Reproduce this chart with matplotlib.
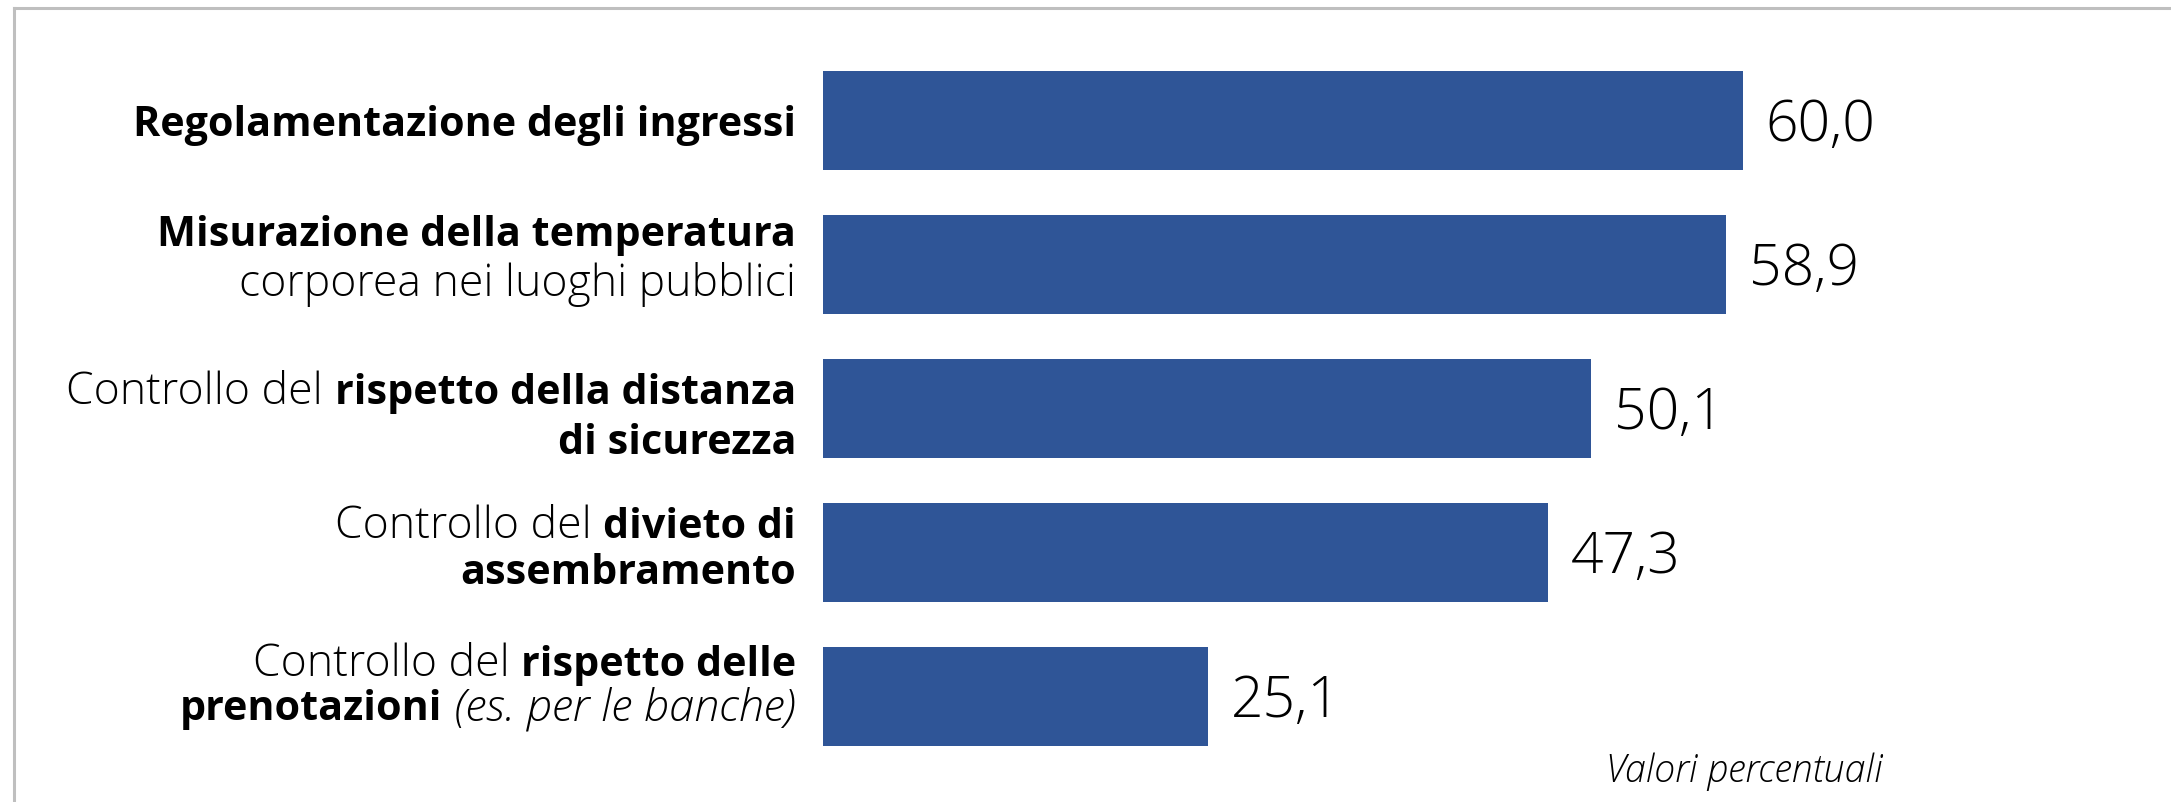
import matplotlib
matplotlib.use("Agg")
import matplotlib.pyplot as plt
from matplotlib.font_manager import FontProperties
from matplotlib.transforms import IdentityTransform
from matplotlib.lines import Line2D

# ---------------- data ----------------
categories = [
    "Regolamentazione degli ingressi",
    "Misurazione della temperatura corporea nei luoghi pubblici",
    "Controllo del rispetto della distanza di sicurezza",
    "Controllo del divieto di assembramento",
    "Controllo del rispetto delle prenotazioni (es. per le banche)",
]
values = [60.0, 58.9, 50.1, 47.3, 25.1]
value_labels = ["60,0", "58,9", "50,1", "47,3", "25,1"]

# rich-text rendering of the category labels: lines of (text, style) segments
# style: "b" bold, "r" regular, "i" italic
label_lines = [
    [[("Regolamentazione degli ingressi", "b")]],
    [[("Misurazione della temperatura", "b")],
     [("corporea nei luoghi pubblici", "r")]],
    [[("Controllo del", "r"), ("rispetto della distanza", "b")],
     [("di sicurezza", "b")]],
    [[("Controllo del", "r"), ("divieto di", "b")],
     [("assembramento", "b")]],
    [[("Controllo del", "r"), ("rispetto delle", "b")],
     [("prenotazioni", "b"), ("(es. per le banche)", "i")]],
]
unit_note = "Valori percentuali"

# ---------------- layout ----------------
W, H, DPI = 2171, 802, 100
BAR_COLOR = "#2F5597"
BORDER = "#BFBFBF"
FONT = "Open Sans"

fig = plt.figure(figsize=(W / DPI, H / DPI), dpi=DPI)
fig.patch.set_facecolor("white")

ax_left, ax_right = 823, 2049
ax_top, ax_bottom = 48.5, 768.5
ax = fig.add_axes([ax_left / W, (H - ax_bottom) / H,
                   (ax_right - ax_left) / W, (ax_bottom - ax_top) / H])
ypos = list(range(len(values)))
ax.barh(ypos, values, height=0.694, color=BAR_COLOR, edgecolor="none")
ax.set_xlim(0, 80)
ax.set_ylim(len(values) - 0.5, -0.5)
ax.axis("off")

props = {
    "b": FontProperties(family=FONT, weight="bold", size=29.7),
    "r": FontProperties(family=FONT, weight="light", size=32),
    "i": FontProperties(family=FONT, weight="light", style="italic", size=32.5),
}
val_fp = FontProperties(family=FONT, weight="light", size=41)
note_fp = FontProperties(family=FONT, weight="light", style="italic", size=27)

# value labels
for y, v, lbl in zip(ypos, values, value_labels):
    ax.annotate(lbl, xy=(v, y), xytext=(23, -21), textcoords="offset pixels",
                ha="left", va="baseline", fontproperties=val_fp, color="black")

renderer = fig.canvas.get_renderer()


def space_width(fp):
    w1, _, _ = renderer.get_text_width_height_descent("n n", fp, ismath=False)
    w2, _, _ = renderer.get_text_width_height_descent("nn", fp, ismath=False)
    return w1 - w2


def draw_rich_line(x_right, y_base, segs):
    x = x_right
    for text, style in reversed(segs):
        fp = props[style]
        t = fig.text(x, y_base, text, transform=IdentityTransform(),
                     ha="right", va="baseline", fontproperties=fp, color="black")
        bb = t.get_window_extent(renderer)
        x = bb.x0 - space_width(props["r"])


label_right = 796
first_shift = [16, -18, -4, -15, -21]   # baseline of first line vs bar centre (px, down)
line_gap = [0, 50, 50, 47, 45]
for i, lines in enumerate(label_lines):
    yc = ax.transData.transform((0, ypos[i]))[1]
    for k, segs in enumerate(lines):
        yb = yc - first_shift[i] - k * line_gap[i]
        draw_rich_line(label_right, yb, segs)

# unit note
fig.text(1883, H - 782, unit_note, transform=IdentityTransform(),
         ha="right", va="baseline", fontproperties=note_fp, color="black")

# frame (left and top edges only)
bx, by = 13.5, 8
fig.add_artist(Line2D([bx / W, bx / W], [0, 1 - by / H], transform=fig.transFigure,
                      color=BORDER, lw=2.2, solid_capstyle="projecting"))
fig.add_artist(Line2D([bx / W, 1], [1 - by / H, 1 - by / H], transform=fig.transFigure,
                      color=BORDER, lw=2.2, solid_capstyle="projecting"))

fig.savefig("out.png", dpi=DPI, facecolor="white")
